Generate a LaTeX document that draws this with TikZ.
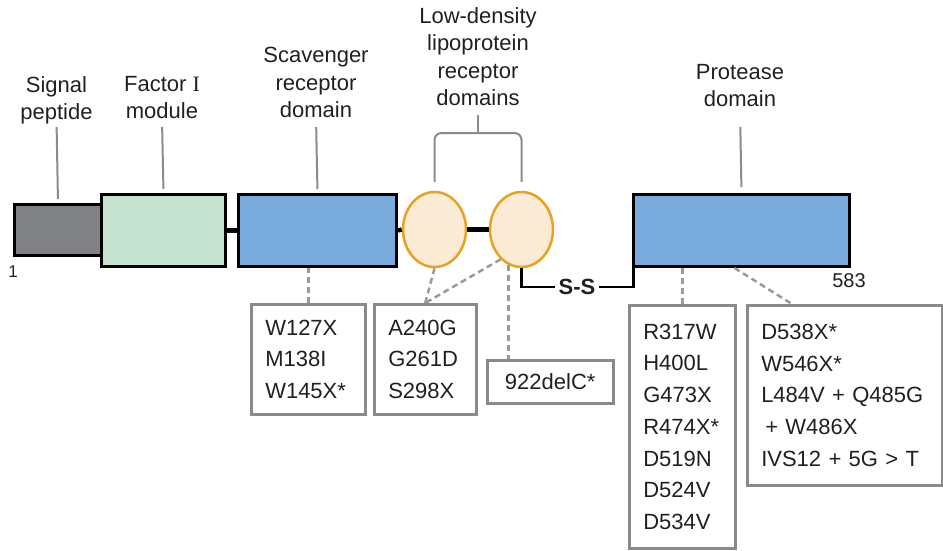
\documentclass[tikz,border=0pt]{standalone}
\usepackage{fontspec}
\setmainfont{Liberation Sans}
\newfontfamily\romanfont{Liberation Serif}
\usetikzlibrary{positioning}
\usetikzlibrary{shapes.geometric}

\definecolor{inktext}{HTML}{231F20}
\definecolor{sigcol}{RGB}{128,129,133}
\definecolor{faccol}{HTML}{C6E2D0}
\definecolor{domblue}{HTML}{79ACDC}
\definecolor{ldlfill}{HTML}{FCEBD4}
\definecolor{ldlrim}{HTML}{E6A224}
\definecolor{tickgray}{HTML}{8C8C8C}
\definecolor{boxgray}{HTML}{8A8A8A}
\definecolor{dashgray}{HTML}{9A9A9A}

\begin{document}
\begin{tikzpicture}
	[x=1pt,y=-1pt,
	dom/.style={draw=black,line width=3pt,inner sep=0pt,anchor=north west},
	ldl/.style={draw=ldlrim,fill=ldlfill,line width=2.5pt,shape=ellipse,minimum width=63pt,minimum height=75pt,inner sep=0pt},
	lab/.style={align=center,inner sep=0pt,anchor=south,text depth=0pt,font=\fontsize{22}{27.5}\selectfont,text=inktext},
	tick/.style={draw=tickgray,line width=2pt},
	link/.style={line width=4.5pt},
	mut/.style={draw=boxgray,line width=2.5pt,anchor=north west,align=left,inner xsep=14pt,inner ysep=0pt,font=\fontsize{22}{31.7}\selectfont,text=inktext},
	dsh/.style={draw=dashgray,line width=2.5pt,dash pattern=on 6pt off 4pt}]
	\useasboundingbox (0,0) rectangle (943,551);
	
	% domains along the chain
	\node[dom,fill=sigcol,minimum width=87pt,minimum height=51pt] (sig) at (13,203) {};
	\node[dom,fill=faccol,minimum width=124pt,minimum height=72pt] (fac) at (100,193) {};
	\node[dom,fill=domblue,minimum width=158pt,minimum height=72pt] (scav) at (237,193) {};
	\node[ldl] (ldla) at (434.5,229.5) {};
	\node[ldl] (ldlb) at (521.5,229.5) {};
	\node[dom,fill=domblue,minimum width=216pt,minimum height=72pt] (prot) at (632,193) {};
	
	\draw[link] (fac.east) -- (scav.west);
	\draw[link] (scav.east) -- (ldla.west);
	\draw[link] (ldla.east) -- (ldlb.west);
	
	\node[font=\bfseries\fontsize{22}{26}\selectfont,text=inktext,inner sep=3pt] (ss) at (577,287) {S-S};
	\draw[line width=2.5pt] (ldlb.south) |- (ss.west);
	\draw[line width=2.5pt] (ss.east) -| ([xshift=1.5pt]prot.south west);
	
	\node[font=\fontsize{17}{20}\selectfont,text=inktext] (first) at (13,272) {1};
	\node[font=\fontsize{20}{24}\selectfont,text=inktext] (last) at (849,281) {583};
	
	% domain names
	\node[lab] (siglbl) at (56.5,120) {Signal\\peptide};
	\node[lab] (faclbl) at (162,119) {Factor {\romanfont I}\\module};
	\node[lab] (scavlbl) at (316,118) {Scavenger\\receptor\\domain};
	\node[lab] (ldllbl) at (478,106) {Low-density\\lipoprotein\\receptor\\domains};
	\node[lab] (protlbl) at (740,107) {Protease\\domain};
	
	\draw[tick,shorten <=7pt,shorten >=4pt] (siglbl.south) -- (sig.north);
	\draw[tick,shorten <=8pt,shorten >=4pt] (faclbl.south) -- (fac.north);
	\draw[tick,shorten <=9pt,shorten >=4pt] (scavlbl.south) -- (scav.north);
	\draw[tick,shorten <=20pt,shorten >=6pt] (protlbl.south) -- (prot.north);
	
	\coordinate (brk) at (478,133);
	\draw[tick,rounded corners=7pt,shorten <=9pt,shorten >=9pt] (ldla.north) |- (brk) -| (ldlb.north);
	\draw[tick,shorten <=9pt] (ldllbl.south) -- (brk);
	
	% mutations
	\node[mut,text width=86pt,minimum height=110pt] (muta) at (250,303) {W127X\\M138I\\W145X*};
	\node[mut,text width=74pt,minimum height=110pt] (mutb) at (373,303) {A240G\\G261D\\S298X};
	\node[mut,text width=98pt,minimum height=43pt,align=center] (mutc) at (486,359) {922delC*};
	\node[mut,text width=78pt,minimum height=243pt] (mutd) at (628,304) {R317W\\H400L\\G473X\\R474X*\\D519N\\D524V\\D534V};
	\node[mut,text width=167pt,minimum height=180pt] (mute) at (746,304) {D538X*\\W546X*\\L484V + Q485G\\\hspace{4pt}+ W486X\\IVS12 + 5G > T};
	
	\draw[dsh] (muta.north) -- (muta.north |- scav.south);
	\draw[dsh] (ldla.south) -- (mutb.north);
	\draw[dsh] (ldlb.235) -- (mutb.north);
	\draw[dsh] (ldlb.250) -- (ldlb.250 |- mutc.north);
	\draw[dsh] (mutd.north) -- (mutd.north |- prot.south);
	\draw[dsh] ([xshift=-7pt]prot.south) -- ([xshift=46pt]mute.north west);
	
\end{tikzpicture}
\end{document}
